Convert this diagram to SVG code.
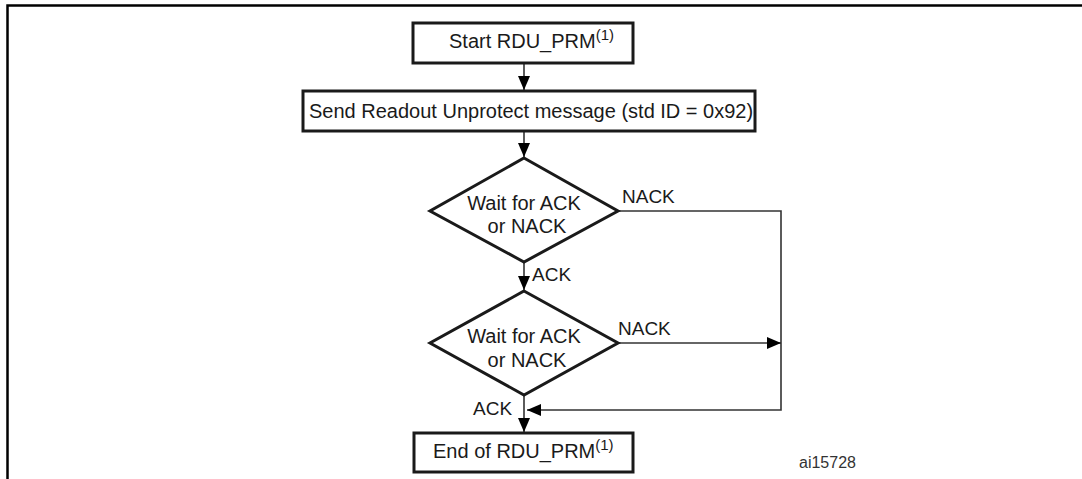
<svg xmlns="http://www.w3.org/2000/svg" width="1082" height="479" viewBox="0 0 1082 479">
<style>
.box{fill:#fff;stroke:#1a1a1a;stroke-width:3}
.dia{fill:#fff;stroke:#1a1a1a;stroke-width:3;stroke-linejoin:miter}
.conn{fill:none;stroke:#333;stroke-width:1.6}
.t{font-family:"Liberation Sans",Arial,sans-serif;font-size:20px;fill:#1a1a1a}
.sup{font-size:15px}
.lbl{font-family:"Liberation Sans",Arial,sans-serif;font-size:19px;fill:#1a1a1a}
.id{font-family:"Liberation Sans",Arial,sans-serif;font-size:16px;fill:#333}
</style>
<defs>
<marker id="arr" viewBox="0 0 14 12" refX="14" refY="6" markerWidth="14" markerHeight="12" markerUnits="userSpaceOnUse" orient="auto">
<path d="M0,0 L14,6 L0,12 Z" fill="#000"/>
</marker>
</defs>
<rect width="1082" height="479" fill="#fff"/>
<path d="M7.5,479 V5.5 H1082" fill="none" stroke="#000" stroke-width="2.5"/>
<g id="connectors">
<line class="conn" x1="524" y1="63" x2="524" y2="90" marker-end="url(#arr)"/>
<line class="conn" x1="524" y1="131" x2="524" y2="157" marker-end="url(#arr)"/>
<line class="conn" x1="524" y1="262" x2="524" y2="290" marker-end="url(#arr)"/>
<line class="conn" x1="524" y1="395" x2="524" y2="432" marker-end="url(#arr)"/>
<path class="conn" d="M618,211 H781 V410 H527" marker-end="url(#arr)"/>
<line class="conn" x1="618" y1="343" x2="781" y2="343" marker-end="url(#arr)"/>
<text class="lbl" x="622" y="203">NACK</text>
<text class="lbl" x="532" y="281">ACK</text>
<text class="lbl" x="618" y="335">NACK</text>
<text class="lbl" x="473" y="415">ACK</text>
</g>
<g id="start">
<rect class="box" x="413" y="23" width="220" height="40"/>
<text class="t" x="449" y="48">Start RDU_PRM<tspan class="sup" dy="-8">(1)</tspan></text>
</g>
<g id="send">
<rect class="box" x="303" y="91" width="452" height="40"/>
<text class="t" x="309" y="118">Send Readout Unprotect message (std ID = 0x92)</text>
</g>
<g id="wait1">
<polygon class="dia" points="524,158 618,211 524,262 430,211"/>
<text class="t" x="524" y="210" text-anchor="middle">Wait for ACK</text>
<text class="t" x="527" y="233" text-anchor="middle">or NACK</text>
</g>
<g id="wait2">
<polygon class="dia" points="524,291 618,343 524,395 430,343"/>
<text class="t" x="524" y="343" text-anchor="middle">Wait for ACK</text>
<text class="t" x="527" y="367" text-anchor="middle">or NACK</text>
</g>
<g id="end">
<rect class="box" x="414" y="433" width="219" height="39"/>
<text class="t" x="433" y="458">End of RDU_PRM<tspan class="sup" dy="-8">(1)</tspan></text>
</g>
<text class="id" x="799" y="468">ai15728</text>
</svg>
